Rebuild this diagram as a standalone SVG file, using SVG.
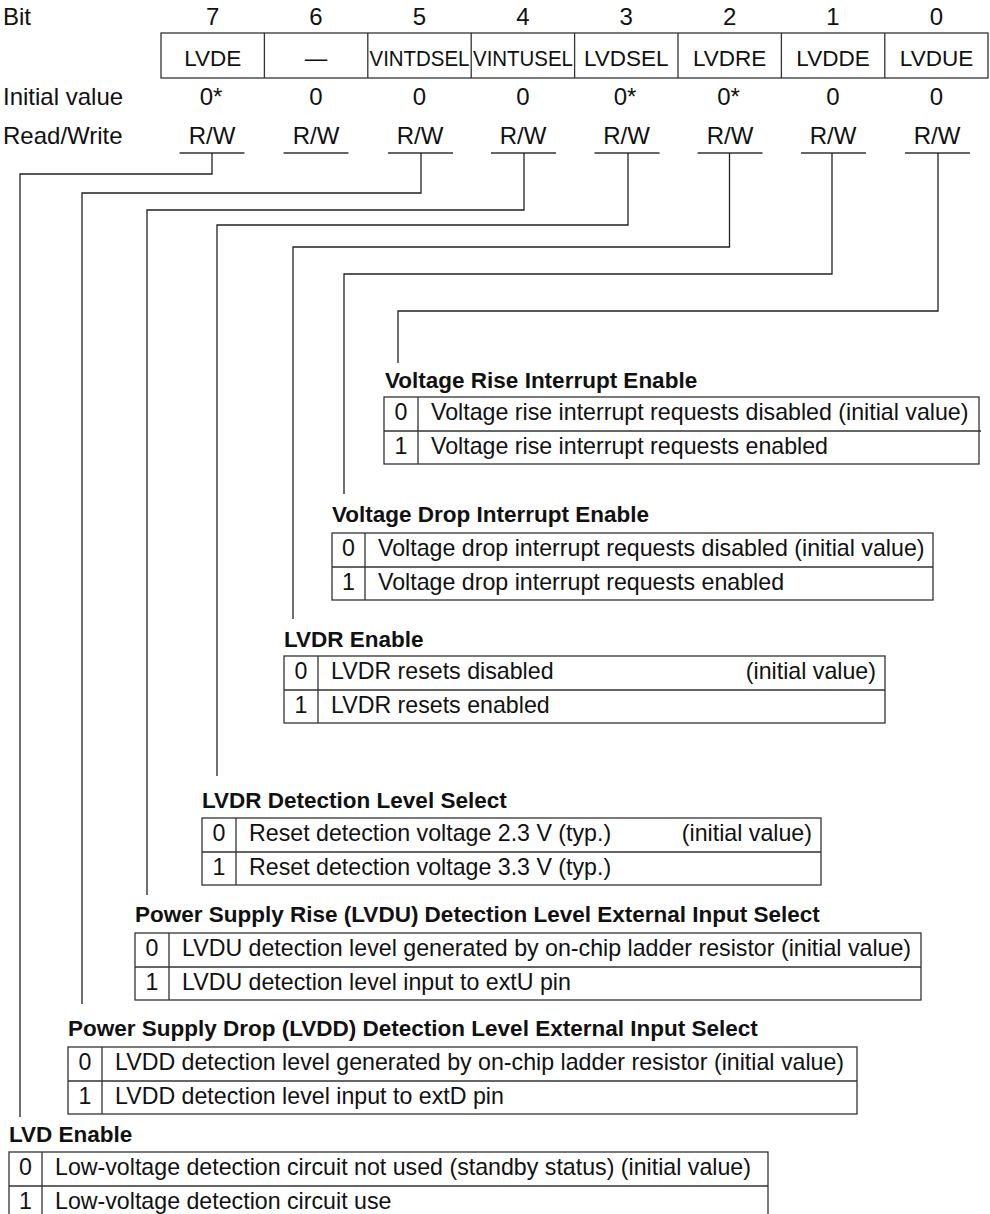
<svg xmlns="http://www.w3.org/2000/svg" width="990" height="1214" viewBox="0 0 990 1214">
<style>
  text { font-family: "Liberation Sans", Arial, sans-serif; fill: #111; }
  .hdr { font-size: 24px; }
  .c { text-anchor: middle; }
  .cell { font-size: 22.5px; text-anchor: middle; }
  .ttl { font-size: 22.5px; font-weight: bold; }
  .row { font-size: 23.2px; }
  .num { font-size: 23.2px; text-anchor: middle; }
  .end { text-anchor: end; }
  .box { fill: none; stroke: #333; stroke-width: 1.3; }
  .ln { fill: none; stroke: #333; stroke-width: 1.3; }
  .wire { fill: none; stroke: #222; stroke-width: 1.3; }
</style>

<g id="header-labels">
  <text class="hdr" x="3" y="25">Bit</text>
  <text class="hdr" x="3" y="105">Initial value</text>
  <text class="hdr" x="3" y="144">Read/Write</text>
</g>

<g id="bit-numbers">
  <text class="hdr c" x="212.7" y="25">7</text>
  <text class="hdr c" x="316" y="25">6</text>
  <text class="hdr c" x="419.5" y="25">5</text>
  <text class="hdr c" x="523" y="25">4</text>
  <text class="hdr c" x="626.3" y="25">3</text>
  <text class="hdr c" x="729.7" y="25">2</text>
  <text class="hdr c" x="833" y="25">1</text>
  <text class="hdr c" x="936.5" y="25">0</text>
</g>

<g id="register">
  <rect class="box" x="161" y="33" width="827" height="45"/>
  <path class="ln" d="M264.4,33V78M367.8,33V78M471.2,33V78M574.6,33V78M678,33V78M781.4,33V78M884.8,33V78"/>
  <text class="cell" x="212.7" y="66">LVDE</text>
  <text class="cell" x="316" y="66">—</text>
  <text class="cell" x="419.5" y="66" textLength="100" lengthAdjust="spacingAndGlyphs">VINTDSEL</text>
  <text class="cell" x="523" y="66" textLength="100" lengthAdjust="spacingAndGlyphs">VINTUSEL</text>
  <text class="cell" x="626.3" y="66">LVDSEL</text>
  <text class="cell" x="729.7" y="66">LVDRE</text>
  <text class="cell" x="833" y="66">LVDDE</text>
  <text class="cell" x="936.5" y="66">LVDUE</text>
</g>

<g id="initial-values">
  <text class="hdr c" x="211" y="105">0*</text>
  <text class="hdr c" x="316" y="105">0</text>
  <text class="hdr c" x="419.5" y="105">0</text>
  <text class="hdr c" x="523" y="105">0</text>
  <text class="hdr c" x="625" y="105">0*</text>
  <text class="hdr c" x="728.5" y="105">0*</text>
  <text class="hdr c" x="833" y="105">0</text>
  <text class="hdr c" x="936.5" y="105">0</text>
</g>

<g id="read-write">
  <text class="hdr c" x="212" y="144">R/W</text>
  <text class="hdr c" x="316" y="144">R/W</text>
  <text class="hdr c" x="420" y="144">R/W</text>
  <text class="hdr c" x="523" y="144">R/W</text>
  <text class="hdr c" x="626.5" y="144">R/W</text>
  <text class="hdr c" x="730" y="144">R/W</text>
  <text class="hdr c" x="833" y="144">R/W</text>
  <text class="hdr c" x="937" y="144">R/W</text>
  <path class="ln" d="M179.5,153H244.5M283.5,153H348.5M388,153H453M491,153H556M594.5,153H659.5M697.5,153H762.5M801,153H866M905,153H970"/>
</g>

<g id="connectors">
  <path class="wire" d="M212,153V174H20V1117"/>
  <path class="wire" d="M421,153V193H82V1004"/>
  <path class="wire" d="M524,153V210H147V895"/>
  <path class="wire" d="M628,153V225H217V776"/>
  <path class="wire" d="M729.5,153V247H293V619"/>
  <path class="wire" d="M832,153V274H344V494"/>
  <path class="wire" d="M938,153V311H398V363"/>
</g>

<g id="t-lvdue">
  <text class="ttl" x="385" y="388">Voltage Rise Interrupt Enable</text>
  <rect class="box" x="384" y="397" width="595" height="67"/>
  <path class="ln" d="M384,431H981M418,397V464"/>
  <text class="num" x="401" y="420">0</text>
  <text class="row" x="431" y="420">Voltage rise interrupt requests disabled (initial value)</text>
  <text class="num" x="401" y="454">1</text>
  <text class="row" x="431" y="454">Voltage rise interrupt requests enabled</text>
</g>

<g id="t-lvdde">
  <text class="ttl" x="332" y="522">Voltage Drop Interrupt Enable</text>
  <rect class="box" x="332" y="533" width="601" height="67"/>
  <path class="ln" d="M332,567H933M365,533V600"/>
  <text class="num" x="348.5" y="556">0</text>
  <text class="row" x="378" y="556">Voltage drop interrupt requests disabled (initial value)</text>
  <text class="num" x="348.5" y="590">1</text>
  <text class="row" x="378" y="590">Voltage drop interrupt requests enabled</text>
</g>

<g id="t-lvdre">
  <text class="ttl" x="284" y="647">LVDR Enable</text>
  <rect class="box" x="284" y="656" width="601" height="67"/>
  <path class="ln" d="M284,690H885M318,656V723"/>
  <text class="num" x="301" y="679">0</text>
  <text class="row" x="331" y="679">LVDR resets disabled</text>
  <text class="row end" x="876" y="679">(initial value)</text>
  <text class="num" x="301" y="713">1</text>
  <text class="row" x="331" y="713">LVDR resets enabled</text>
</g>

<g id="t-lvdsel">
  <text class="ttl" x="202" y="808">LVDR Detection Level Select</text>
  <rect class="box" x="202" y="818" width="619" height="67"/>
  <path class="ln" d="M202,852H821M236,818V885"/>
  <text class="num" x="219" y="841">0</text>
  <text class="row" x="249" y="841">Reset detection voltage 2.3 V (typ.)</text>
  <text class="row end" x="812" y="841">(initial value)</text>
  <text class="num" x="219" y="875">1</text>
  <text class="row" x="249" y="875">Reset detection voltage 3.3 V (typ.)</text>
</g>

<g id="t-vintusel">
  <text class="ttl" x="135" y="922">Power Supply Rise (LVDU) Detection Level External Input Select</text>
  <rect class="box" x="135" y="933" width="786" height="67"/>
  <path class="ln" d="M135,967H921M169,933V1000"/>
  <text class="num" x="152" y="956">0</text>
  <text class="row" x="182" y="956">LVDU detection level generated by on-chip ladder resistor (initial value)</text>
  <text class="num" x="152" y="990">1</text>
  <text class="row" x="182" y="990">LVDU detection level input to extU pin</text>
</g>

<g id="t-vintdsel">
  <text class="ttl" x="68" y="1036">Power Supply Drop (LVDD) Detection Level External Input Select</text>
  <rect class="box" x="68" y="1047" width="789" height="67"/>
  <path class="ln" d="M68,1081H857M102,1047V1114"/>
  <text class="num" x="85" y="1070">0</text>
  <text class="row" x="115" y="1070">LVDD detection level generated by on-chip ladder resistor (initial value)</text>
  <text class="num" x="85" y="1104">1</text>
  <text class="row" x="115" y="1104">LVDD detection level input to extD pin</text>
</g>

<g id="t-lvde">
  <text class="ttl" x="9" y="1142">LVD Enable</text>
  <rect class="box" x="9" y="1152" width="759" height="68"/>
  <path class="ln" d="M9,1186H768M42,1152V1220"/>
  <text class="num" x="25.5" y="1175">0</text>
  <text class="row" x="55" y="1175">Low-voltage detection circuit not used (standby status) (initial value)</text>
  <text class="num" x="25.5" y="1209">1</text>
  <text class="row" x="55" y="1209">Low-voltage detection circuit use</text>
</g>
</svg>
